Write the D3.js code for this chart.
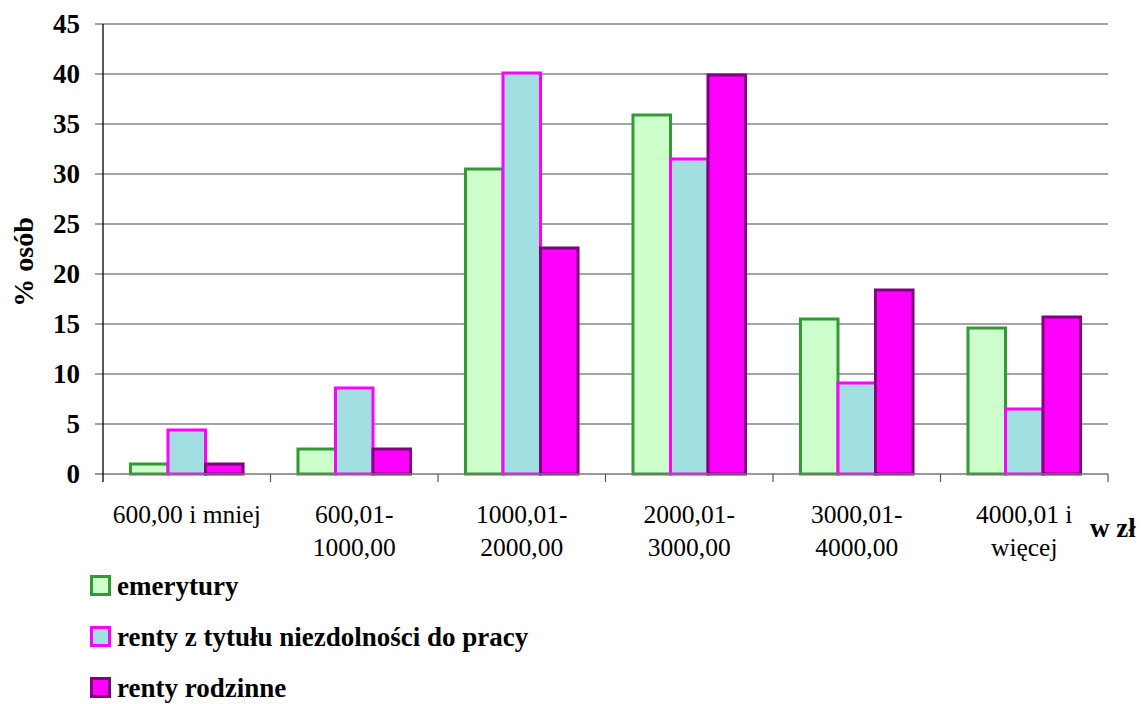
<!DOCTYPE html>
<html><head><meta charset="utf-8">
<script src="https://cdn.jsdelivr.net/npm/d3@7/dist/d3.min.js"></script>
<style>body{margin:0;background:#fff}svg{display:block}text{font-family:"Liberation Serif","Times New Roman",serif}</style>
</head><body><svg id="c" width="1146" height="704"></svg>
<script>
const categories = ["600,00 i mniej", "600,01-\n1000,00", "1000,01-\n2000,00", "2000,01-\n3000,00", "3000,01-\n4000,00", "4000,01 i\nwięcej"];
const seriesNames = ["emerytury", "renty z tytułu niezdolności do pracy", "renty rodzinne"];
const emerytury = [1.0, 2.5, 30.5, 35.9, 15.5, 14.6];
const rentyNiezdolnosc = [4.4, 8.6, 40.1, 31.5, 9.1, 6.5];
const rentyRodzinne = [1.0, 2.5, 22.6, 39.9, 18.4, 15.7];
const yTicks = [0, 5, 10, 15, 20, 25, 30, 35, 40, 45];
const fills = ["#ccffcc", "#a2dfe0", "#ff00ff"];
const strokes = ["#339933", "#ff00ff", "#800080"];
const series = [emerytury, rentyNiezdolnosc, rentyRodzinne];

const svg = d3.select("#c");
const L = 103, R = 1108, T = 24, B = 474;
const y = d3.scaleLinear().domain([0, 45]).range([B, T]);
const x0 = d3.scaleBand().domain(d3.range(categories.length)).range([L, R]).padding(0);
const bw = x0.bandwidth();
const x1 = d3.scaleBand().domain(d3.range(3)).range([bw * 0.164, bw * 0.836]).padding(0);

// gridlines
svg.append("g").selectAll("line").data(yTicks.filter(d => d > 0)).join("line")
  .attr("x1", L - 8).attr("x2", R).attr("y1", d => y(d)).attr("y2", d => y(d))
  .attr("stroke", "#4a4a4a").attr("stroke-width", 1.2);

// y tick labels
svg.append("g").selectAll("text").data(yTicks).join("text")
  .attr("x", 80).attr("y", d => y(d) + 9).attr("text-anchor", "end")
  .attr("font-size", 27).attr("font-weight", "bold")
  .text(d => d);

// bars
series.forEach((vals, s) => {
  svg.append("g").selectAll("rect").data(vals).join("rect")
    .attr("x", (d, i) => x0(i) + x1(s))
    .attr("y", d => y(d))
    .attr("width", x1.bandwidth())
    .attr("height", d => B - y(d))
    .attr("fill", fills[s]).attr("stroke", strokes[s]).attr("stroke-width", 3);
});

// x axis
svg.append("line").attr("x1", L - 8).attr("x2", R).attr("y1", B).attr("y2", B)
  .attr("stroke", "#777").attr("stroke-width", 1.5);
svg.append("g").selectAll("line").data(d3.range(1, categories.length + 1)).join("line")
  .attr("x1", i => L + i * bw).attr("x2", i => L + i * bw).attr("y1", B).attr("y2", B + 8)
  .attr("stroke", "#555").attr("stroke-width", 1.2);
// y axis
svg.append("line").attr("x1", L).attr("x2", L).attr("y1", T).attr("y2", B + 8)
  .attr("stroke", "#000").attr("stroke-width", 1.3);

// x labels
const xl = svg.append("g").selectAll("text").data(categories).join("text")
  .attr("text-anchor", "middle").attr("font-size", 25.5);
xl.each(function (d, i) {
  const cx = x0(i) + bw / 2;
  d.split("\n").forEach((line, k) => {
    d3.select(this).append("tspan").attr("x", cx).attr("y", 523 + k * 33).text(line);
  });
});

svg.append("text").attr("x", 1090).attr("y", 537).attr("font-size", 27)
  .attr("font-weight", "bold").text("w zł");

// y title
svg.append("text").attr("transform", "translate(33,262) rotate(-90)")
  .attr("text-anchor", "middle").attr("font-size", 28).attr("font-weight", "bold")
  .text("% osób");

// legend
const lg = svg.append("g").selectAll("g").data(seriesNames).join("g")
  .attr("transform", (d, i) => `translate(0,${i * 51})`);
lg.append("rect").attr("x", 91.5).attr("y", 576.5).attr("width", 18).attr("height", 18)
  .attr("fill", (d, i) => fills[i]).attr("stroke", (d, i) => strokes[i]).attr("stroke-width", 3);
lg.append("text").attr("x", 117).attr("y", 595).attr("font-size", 27).attr("font-weight", "bold")
  .text(d => d);
</script></body></html>
